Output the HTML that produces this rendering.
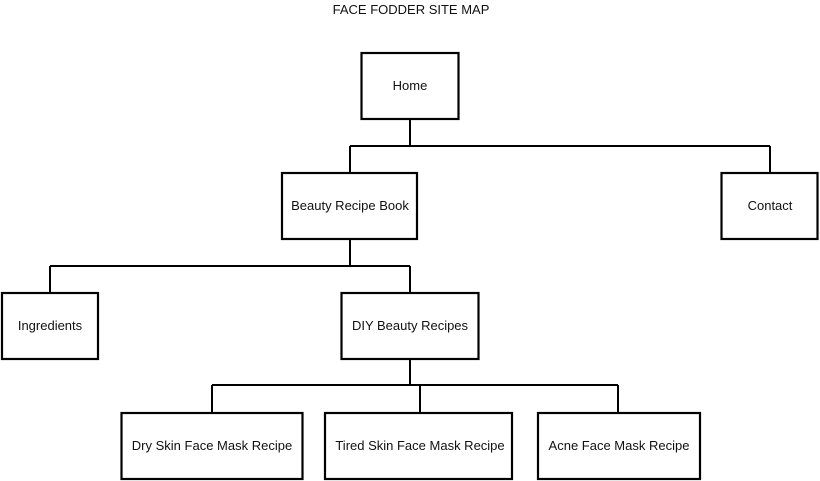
<!DOCTYPE html>
<html><head><meta charset="utf-8"><style>
html,body{margin:0;padding:0;background:#fff;}
svg{display:block;}
text{font-family:"Liberation Sans",sans-serif;font-size:13px;fill:#111;}
</style></head><body>
<svg width="820" height="481" viewBox="0 0 820 481" xmlns="http://www.w3.org/2000/svg">
<text x="411" y="14" text-anchor="middle" font-size="13">FACE FODDER SITE MAP</text>
<g stroke="#000" stroke-width="2" fill="none">
<path d="M410 120V146M350 146H770M350 146V173M770 146V173"/>
<path d="M350 239V266M50 266H410M50 266V293M410 266V293"/>
<path d="M410 359V385M212 385H618M212 385V412M420 385V412M618 385V412"/>
</g>
<g stroke="#000" stroke-width="2.2" fill="#fff">
<rect x="361.5" y="53" width="97" height="66"/>
<rect x="282" y="173" width="135" height="66"/>
<rect x="721.5" y="173" width="96" height="66"/>
<rect x="2" y="293" width="96" height="66"/>
<rect x="341.5" y="293" width="137" height="66"/>
<rect x="121.5" y="413" width="181" height="66"/>
<rect x="325" y="413" width="187" height="66"/>
<rect x="538" y="413" width="162" height="66"/>
</g>
<g text-anchor="middle">
<text x="410" y="90">Home</text>
<text x="350" y="210">Beauty Recipe Book</text>
<text x="770" y="210">Contact</text>
<text x="50" y="330">Ingredients</text>
<text x="410" y="330">DIY Beauty Recipes</text>
<text x="212" y="450">Dry Skin Face Mask Recipe</text>
<text x="420" y="450">Tired Skin Face Mask Recipe</text>
<text x="619" y="450">Acne Face Mask Recipe</text>
</g>
</svg>
</body></html>
